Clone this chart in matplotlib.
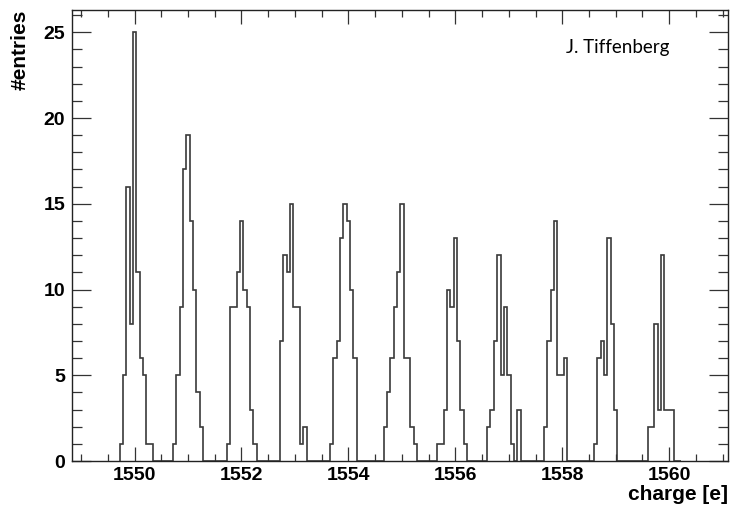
import numpy as np
import matplotlib
matplotlib.use("Agg")
import matplotlib.pyplot as plt
from matplotlib.ticker import MultipleLocator

# histogram grid: bins of 1/16 e starting at the first filled bin
bin_width = 1.0 / 16
first_edge = 1549.72
n_bins = 168

# counts read per peak: (index of first bin, counts)
peak_1550 = (0, [1, 5, 16, 8, 25, 11, 6, 5, 1, 1])
peak_1551 = (16, [1, 5, 9, 17, 19, 14, 10, 4, 2])
peak_1552 = (32, [1, 9, 9, 11, 14, 10, 9, 3, 1])
peak_1553 = (48, [7, 12, 11, 15, 9, 9, 1, 2])
peak_1554 = (63, [1, 6, 7, 13, 15, 14, 10, 6])
peak_1555 = (79, [2, 4, 6, 9, 11, 15, 6, 6, 2, 1])
peak_1556 = (95, [1, 1, 3, 10, 9, 13, 7, 3, 1])
peak_1557 = (110, [2, 3, 7, 12, 5, 9, 5, 1, 0, 3])
peak_1558 = (127, [2, 7, 10, 14, 5, 5, 6])
peak_1559 = (142, [1, 6, 7, 5, 13, 8, 3])
peak_1560 = (158, [2, 2, 8, 3, 12, 3, 3, 3])

peaks = [peak_1550, peak_1551, peak_1552, peak_1553, peak_1554, peak_1555,
         peak_1556, peak_1557, peak_1558, peak_1559, peak_1560]

counts = np.zeros(n_bins)
for start, vals in peaks:
    counts[start:start + len(vals)] = vals
edges = first_edge + bin_width * np.arange(n_bins + 1)

plt.rcParams['font.family'] = ['Liberation Sans', 'DejaVu Sans']

fig = plt.figure(figsize=(7.31, 5.09), dpi=100)
ax = fig.add_axes([72/731, 1 - 461/509, 656/731, 451/509])

ax.stairs(counts, edges, color='#3a3a3a', lw=1.2, baseline=0)

ax.set_xlim(1548.83, 1561.1)
ax.set_ylim(0, 26.3)

ax.xaxis.set_major_locator(MultipleLocator(2))
ax.xaxis.set_minor_locator(MultipleLocator(0.5))
ax.yaxis.set_major_locator(MultipleLocator(5))
ax.yaxis.set_minor_locator(MultipleLocator(1))

ax.tick_params(axis='both', which='both', direction='in', top=True, right=True,
               width=0.9, color='#333333')
ax.tick_params(axis='x', which='major', length=10, pad=4)
ax.tick_params(axis='x', which='minor', length=5)
ax.tick_params(axis='y', which='major', length=13.5, pad=5)
ax.tick_params(axis='y', which='minor', length=7)
for lab in ax.get_xticklabels() + ax.get_yticklabels():
    lab.set_fontweight('bold')
    lab.set_fontsize(14)
for sp in ax.spines.values():
    sp.set_linewidth(1.0)
    sp.set_color('#222222')

ax.set_xlabel('charge [e]', fontsize=15, fontweight='bold', loc='right')
ax.xaxis.set_label_coords(1.0, -0.053)
ax.set_ylabel('#entries', fontsize=15, fontweight='bold', loc='top')
ax.yaxis.set_label_coords(-0.064, 1.0)

fig.text(566/731, 1 - 47/509, 'J. Tiffenberg', fontsize=13.5,
         family=['Lato', 'DejaVu Sans'], va='center', ha='left')

fig.savefig('out.png', dpi=100)
